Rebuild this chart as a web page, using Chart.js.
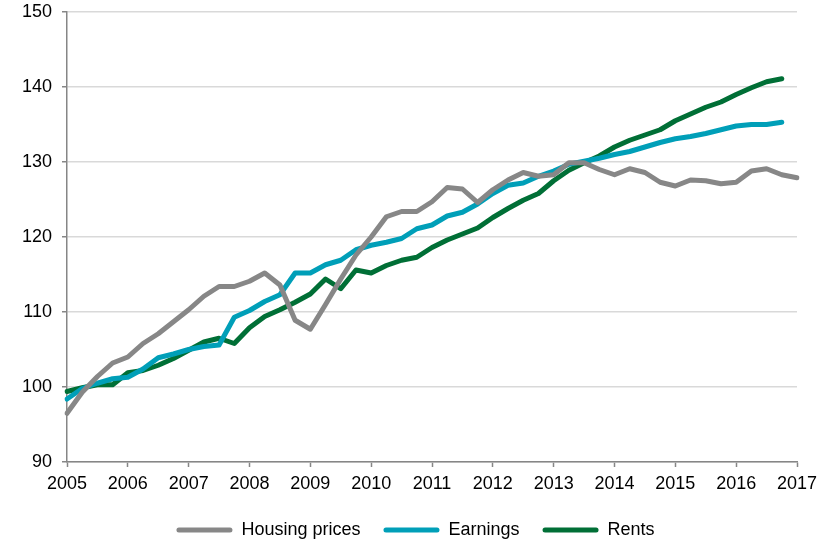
<!DOCTYPE html>
<html>
<head>
<meta charset="utf-8">
<script src="https://cdn.jsdelivr.net/npm/chart.js@4/dist/chart.umd.min.js"></script>
<style>
  html, body { margin: 0; padding: 0; background: #ffffff; }
  #wrap { width: 831px; height: 540px; position: relative; }
</style>
</head>
<body>
<div id="wrap"><canvas id="c"></canvas></div>
<script>
const quarters = [
  '2005 Q1','2005 Q2','2005 Q3','2005 Q4',
  '2006 Q1','2006 Q2','2006 Q3','2006 Q4',
  '2007 Q1','2007 Q2','2007 Q3','2007 Q4',
  '2008 Q1','2008 Q2','2008 Q3','2008 Q4',
  '2009 Q1','2009 Q2','2009 Q3','2009 Q4',
  '2010 Q1','2010 Q2','2010 Q3','2010 Q4',
  '2011 Q1','2011 Q2','2011 Q3','2011 Q4',
  '2012 Q1','2012 Q2','2012 Q3','2012 Q4',
  '2013 Q1','2013 Q2','2013 Q3','2013 Q4',
  '2014 Q1','2014 Q2','2014 Q3','2014 Q4',
  '2015 Q1','2015 Q2','2015 Q3','2015 Q4',
  '2016 Q1','2016 Q2','2016 Q3','2016 Q4',
  '2017 Q1'
];

const housingPrices = [
  96.5, 99.3, 101.4, 103.2, 104.0, 105.8, 107.1, 108.7, 110.3, 112.1,
  113.4, 113.4, 114.1, 115.2, 113.6, 108.9, 107.7, 111.0, 114.4, 117.6,
  120.0, 122.7, 123.4, 123.4, 124.7, 126.6, 126.4, 124.6, 126.3, 127.6,
  128.6, 128.1, 128.3, 129.9, 129.9, 129.0, 128.3, 129.1, 128.6, 127.3,
  126.8, 127.6, 127.5, 127.1, 127.3, 128.8, 129.1, 128.3, 127.9
];

const earnings = [
  98.4, 99.8, 100.5, 101.1, 101.3, 102.4, 103.9, 104.4, 105.0, 105.4,
  105.6, 109.3, 110.2, 111.4, 112.3, 115.2, 115.2, 116.3, 116.9, 118.3,
  118.9, 119.3, 119.8, 121.1, 121.6, 122.8, 123.3, 124.4, 125.8, 126.9,
  127.2, 128.1, 128.8, 129.7, 130.1, 130.5, 131.0, 131.4, 132.0, 132.6,
  133.1, 133.4, 133.8, 134.3, 134.8, 135.0, 135.0, 135.3
];

const rents = [
  99.4, 99.9, 100.3, 100.3, 101.9, 102.2, 102.9, 103.8, 104.9, 106.0,
  106.5, 105.8, 107.9, 109.4, 110.3, 111.3, 112.4, 114.4, 113.1, 115.6,
  115.2, 116.2, 116.9, 117.3, 118.6, 119.6, 120.4, 121.2, 122.6, 123.8,
  124.9, 125.8, 127.5, 128.9, 129.9, 130.8, 132.0, 132.9, 133.6, 134.3,
  135.5, 136.4, 137.3, 138.0, 139.0, 139.9, 140.7, 141.1
];

const seriesNames = ['Housing prices', 'Earnings', 'Rents'];
const seriesColors = ['#878787', '#009fb8', '#006f36'];

const yTicks = { min: 90, max: 150, step: 10 };

const FONT = '"Liberation Sans", Arial, Helvetica, sans-serif';
const AXIS = '#868686';

function lineDs(label, data, color) {
  return {
    label: label,
    data: data,
    borderColor: color,
    backgroundColor: color,
    borderWidth: 5,
    pointRadius: 0,
    pointHoverRadius: 0,
    tension: 0,
    fill: false,
    borderCapStyle: 'round',
    borderJoinStyle: 'round',
    yAxisID: 'y'
  };
}

new Chart(document.getElementById('c'), {
  type: 'line',
  data: {
    labels: quarters,
    datasets: [
      lineDs(seriesNames[0], housingPrices, seriesColors[0]),
      lineDs(seriesNames[1], earnings, seriesColors[1]),
      lineDs(seriesNames[2], rents, seriesColors[2])
    ]
  },
  options: {
    responsive: true,
    maintainAspectRatio: false,
    animation: false,
    devicePixelRatio: 1,
    layout: { padding: { top: 12, right: 0, bottom: 0, left: 0 } },
    plugins: {
      tooltip: { enabled: false },
      legend: {
        display: true,
        position: 'bottom',
        maxHeight: 42,
        labels: {
          font: { family: FONT, size: 18 },
          color: '#000000',
          boxWidth: 56,
          boxHeight: 5,
          padding: 23,
          generateLabels: function(chart) {
            const items = Chart.defaults.plugins.legend.labels.generateLabels(chart);
            items.forEach(function(it, i) {
              it.fillStyle = seriesColors[i];
              it.strokeStyle = seriesColors[i];
              it.lineWidth = 0;
              it.borderRadius = 2.5;
            });
            return items;
          },
          useBorderRadius: true,
          borderRadius: 2.5
        }
      }
    },
    scales: {
      x: {
        type: 'category',
        offset: false,
        afterFit: function(s) { s.height = 36; },
        border: { display: true, color: AXIS, width: 1.5 },
        grid: {
          display: true,
          drawOnChartArea: false,
          drawTicks: true,
          tickLength: 5,
          tickWidth: 1.5,
          tickColor: function(ctx) { return ctx.index % 4 === 0 ? AXIS : 'rgba(0,0,0,0)'; }
        },
        ticks: {
          autoSkip: false,
          maxRotation: 0,
          minRotation: 0,
          padding: 6,
          color: '#000000',
          font: { family: FONT, size: 18 },
          callback: function(v, i) {
            const lab = this.getLabelForValue(v);
            return i % 4 === 0 ? lab.slice(0, 4) : '';
          }
        }
      },
      y: {
        position: 'left',
        min: yTicks.min,
        max: yTicks.max,
        afterFit: function(s) { s.width = 67; s.paddingTop = 0; s.paddingBottom = 0; },
        border: { display: true, color: AXIS, width: 1.5 },
        grid: {
          color: '#d9d9d9',
          lineWidth: 1.5,
          drawTicks: true,
          tickLength: 5,
          tickWidth: 1.5,
          tickColor: AXIS
        },
        ticks: {
          stepSize: yTicks.step,
          padding: 10,
          color: '#000000',
          font: { family: FONT, size: 18 }
        }
      },
      yRight: {
        position: 'right',
        min: yTicks.min,
        max: yTicks.max,
        afterFit: function(s) { s.width = 34; s.paddingTop = 0; s.paddingBottom = 0; },
        border: { display: false },
        grid: { display: false, drawTicks: false },
        ticks: { display: false }
      }
    }
  }
});
</script>
</body>
</html>
